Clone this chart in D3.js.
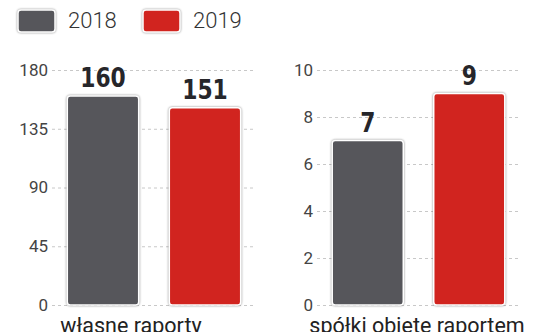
<!DOCTYPE html>
<html><head><meta charset="utf-8">
<script src="https://cdn.jsdelivr.net/npm/d3@7"></script>
<style>
html,body{margin:0;padding:0;background:#fff;}
svg{display:block;}
.bar{filter:drop-shadow(0 0 1px rgba(0,0,0,0.45));}
</style>
</head><body>
<svg id="c" width="536" height="332"></svg>
<script>
const years = ["2018", "2019"];
const colors = ["#56565b", "#d1241f"];
const panelTitles = ["własne raporty", "spółki objęte raportem"];
const ownReports = [160, 151];
const coveredCompanies = [7, 9];
const leftTicks = [0, 45, 90, 135, 180];
const rightTicks = [0, 2, 4, 6, 8, 10];

const svg = d3.select("#c");
const y0 = 305, y1 = 70;

const panels = [
  {values: ownReports, ticks: leftTicks, max: 180, x0: 52, x1: 256, title: panelTitles[0], titleX: 131},
  {values: coveredCompanies, ticks: rightTicks, max: 10, x0: 317, x1: 520, title: panelTitles[1], titleX: 417}
];

panels.forEach(p => {
  const y = d3.scaleLinear().domain([0, p.max]).range([y0, y1]);
  const x = d3.scaleBand().domain(years).range([p.x0, p.x1]).paddingInner(0.3).paddingOuter(0.15);
  const g = svg.append("g");
  const axis = d3.axisLeft(y).tickValues(p.ticks).tickSize(-(p.x1 - p.x0)).tickPadding(4);
  const ag = g.append("g").attr("transform", `translate(${p.x0},0)`).call(axis);
  ag.select(".domain").remove();
  ag.selectAll(".tick line").attr("stroke", "#c8c8c8").attr("stroke-dasharray", "3,3");
  ag.selectAll(".tick text").attr("font-family", "Roboto, sans-serif").attr("font-weight", 400)
    .attr("font-size", 17).attr("fill", "#444");
  g.selectAll("rect.bar").data(p.values).enter().append("rect").attr("class", "bar")
    .attr("x", (d, i) => x(years[i])).attr("width", x.bandwidth())
    .attr("y", d => y(d)).attr("height", d => y0 - y(d))
    .attr("rx", 3).attr("fill", (d, i) => colors[i]).attr("stroke", "#fff").attr("stroke-width", 1.5);
  g.selectAll("text.val").data(p.values).enter().append("text").attr("class", "val")
    .attr("transform", (d, i) => `translate(${x(years[i]) + x.bandwidth() / 2},${y(d) - 9}) scale(0.84,1)`)
    .attr("text-anchor", "middle").attr("font-family", "'DejaVu Sans', sans-serif")
    .attr("font-weight", "bold").attr("font-size", 26).attr("fill", "#26262a").text(d => d);
  g.append("text").attr("x", p.titleX).attr("y", 333).attr("text-anchor", "middle")
    .attr("font-family", "Roboto, sans-serif").attr("font-size", 21.5).attr("fill", "#222").text(p.title);
});

// legend
const lg = svg.append("g");
const legX = [18, 143];
years.forEach((yr, i) => {
  lg.append("rect").attr("class", "bar").attr("x", legX[i]).attr("y", 10).attr("width", 37).attr("height", 22)
    .attr("rx", 3).attr("fill", colors[i]).attr("stroke", "#fff").attr("stroke-width", 1.5);
  lg.append("text").attr("x", legX[i] + 50).attr("y", 28).attr("font-family", "Roboto, sans-serif")
    .attr("font-weight", 300).attr("font-size", 22).attr("fill", "#333").text(yr);
});
</script>
</body></html>
